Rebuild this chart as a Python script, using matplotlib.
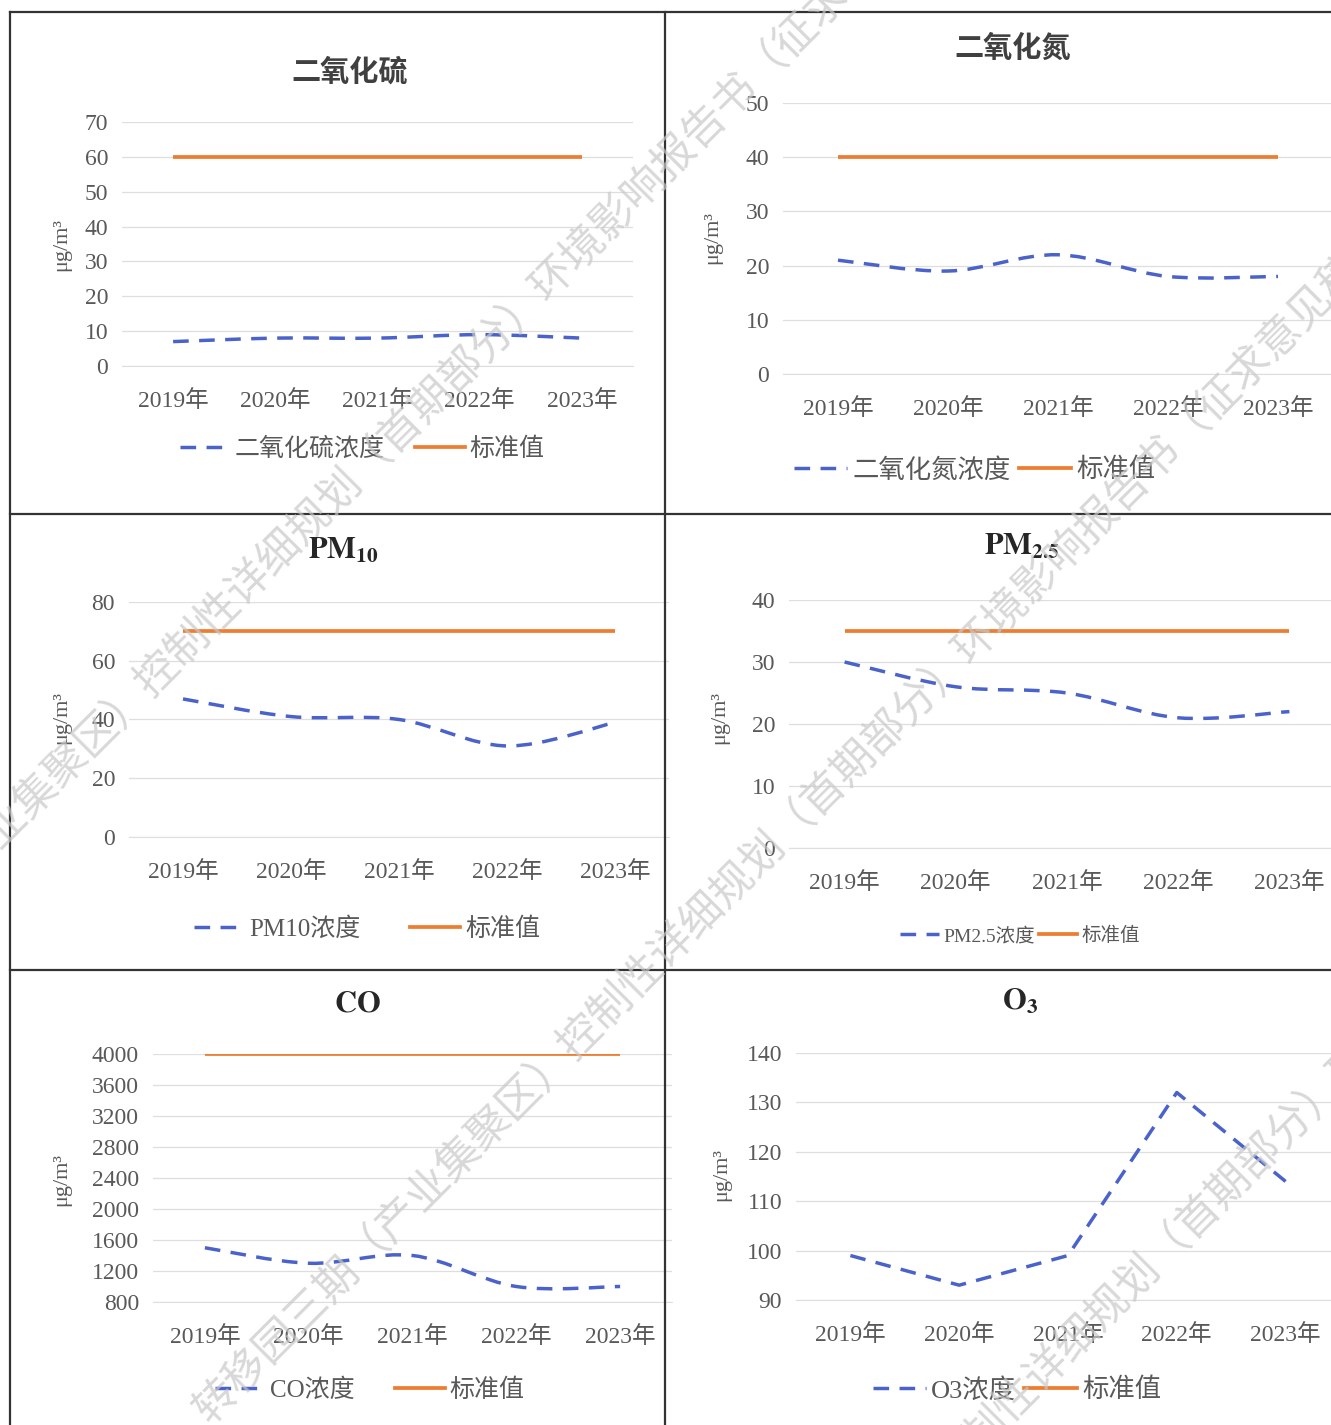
"""
Six-panel air quality trend figure (2019-2023): concentration vs standard value.
"""
import numpy as np
import matplotlib
matplotlib.use("Agg")
import matplotlib.pyplot as plt
from matplotlib.path import Path
from matplotlib.patches import PathPatch
from matplotlib.lines import Line2D
from matplotlib.font_manager import FontProperties

plt.rcParams["font.family"] = ["Liberation Serif", "Noto Sans CJK SC"]
plt.rcParams["mathtext.fontset"] = "stix"

# ── Data ──────────────────────────────────────────────────────────────────────
years = ["2019年", "2020年", "2021年", "2022年", "2023年"]

so2      = [7, 8, 8, 9, 8]
so2_std  = [60, 60, 60, 60, 60]
no2      = [21, 19, 22, 18, 18]
no2_std  = [40, 40, 40, 40, 40]
pm10     = [47, 41, 40, 31, 39]
pm10_std = [70, 70, 70, 70, 70]
pm25     = [30, 26, 25, 21, 22]
pm25_std = [35, 35, 35, 35, 35]
co       = [1500, 1300, 1400, 1000, 1000]
co_std   = [4000, 4000, 4000, 4000, 4000]
o3       = [99, 93, 99, 132, 114]
o3_std   = [160, 160, 160, 160, 160]

titles = ["二氧化硫", "二氧化氮", r"$\mathbf{PM_{10}}$", r"$\mathbf{PM_{2.5}}$",
          r"$\mathbf{CO}$", r"$\mathbf{O_3}$"]
series_labels = ["二氧化硫浓度", "二氧化氮浓度", "PM10浓度", "PM2.5浓度", "CO浓度", "O3浓度"]
std_label = "标准值"
unit = "μg/m³"

# ── Layout (pixels of the 1331x1425 canvas) ──────────────────────────────────
W, H = 1331, 1425
def fx(px): return px / W
def fy(py): return 1 - py / H

panels = [
    # box = (left, right, top, bottom) of the plot area; t/yl/lg = title, unit and legend centres
    dict(d=so2,  s=so2_std,  box=(122, 633, 122, 366),  ylim=(0, 70),     step=10,  t=(350, 72),   yl=(62, 245),   lg=(362, 449),  lfs=18, cs=1.2, sm=True),
    dict(d=no2,  s=no2_std,  box=(783, 1333, 103, 374), ylim=(0, 50),     step=10,  t=(1013, 48),  yl=(713, 238),  lg=(975, 470),  lfs=19, cs=0.3, sm=True),
    dict(d=pm10, s=pm10_std, box=(129, 669, 602, 837),  ylim=(0, 80),     step=20,  t=(343, 551),  yl=(62, 718),   lg=(367, 929),  lfs=18, cs=2.0, sm=True),
    dict(d=pm25, s=pm25_std, box=(789, 1345, 600, 848), ylim=(0, 40),     step=10,  t=(1022, 547), yl=(720, 718),  lg=(1020, 936), lfs=14, cs=0.2, sm=True),
    dict(d=co,   s=co_std,   box=(153, 672, 1054, 1302), ylim=(800, 4000), step=400, t=(357, 1004), yl=(62, 1180),  lg=(370, 1390), lfs=18, cs=1.6, sm=True),
    dict(d=o3,   s=o3_std,   box=(796, 1340, 1053, 1300), ylim=(90, 140),  step=10,  t=(1020, 1002), yl=(722, 1175), lg=(1017, 1390), lfs=19, cs=0.3, sm=False),
]

BLUE = "#4a62c9"
ORANGE = "#ED7D31"
GRID = "#dedede"
TXT = "#595959"
DASH = (0, (4.5, 3.0))


def smooth_path(xs, ys):
    # cubic bezier through the points (Excel style smoothed line)
    pts = list(zip(xs, ys))
    n = len(pts)
    verts, codes = [pts[0]], [Path.MOVETO]
    for i in range(n - 1):
        p0, p1 = pts[max(i - 1, 0)], pts[i]
        p2, p3 = pts[i + 1], pts[min(i + 2, n - 1)]
        c1 = (p1[0] + (p2[0] - p0[0]) / 6, p1[1] + (p2[1] - p0[1]) / 6)
        c2 = (p2[0] - (p3[0] - p1[0]) / 6, p2[1] - (p3[1] - p1[1]) / 6)
        verts += [c1, c2, p2]
        codes += [Path.CURVE4] * 3
    return Path(verts, codes)


fig = plt.figure(figsize=(W / 100, H / 100), dpi=100)

x = np.arange(len(years))
for i, p in enumerate(panels):
    l, r, t, b = p["box"]
    ax = fig.add_axes([fx(l), fy(b), (r - l) / W, (b - t) / H])
    ax.set_xlim(-0.5, len(years) - 0.5)
    ax.set_ylim(*p["ylim"])
    ax.set_yticks(np.arange(p["ylim"][0], p["ylim"][1] + 1, p["step"]))
    ax.set_xticks(x)
    ax.set_xticklabels(years)
    ax.tick_params(axis="both", length=0, labelsize=17, labelcolor=TXT)
    ax.tick_params(axis="x", pad=17)
    ax.tick_params(axis="y", pad=10)
    ax.grid(True, axis="y", color=GRID, lw=0.9)
    ax.set_axisbelow(True)
    for side in ["top", "right", "left"]:
        ax.spines[side].set_visible(False)
    ax.spines["bottom"].set_color(GRID)

    # standard value line
    ax.plot(x, p["s"], color=ORANGE, lw=2.7, solid_capstyle="butt", zorder=3)
    # concentration line
    if p["sm"]:
        ax.add_patch(PathPatch(smooth_path(x, p["d"]), fill=False, edgecolor=BLUE,
                               lw=2.5, linestyle=DASH, capstyle="butt", zorder=4))
    else:
        ax.plot(x, p["d"], color=BLUE, lw=2.5, linestyle=DASH, zorder=4)

    # title and unit
    if i < 2:
        fig.text(fx(p["t"][0]), fy(p["t"][1]), titles[i], ha="center", va="center",
                 fontsize=21, fontweight="bold", color="#404040", family=["Noto Sans CJK SC"])
    else:
        fig.text(fx(p["t"][0]), fy(p["t"][1]), titles[i], ha="center", va="center",
                 fontsize=22, color="#262626")
    fig.text(fx(p["yl"][0]), fy(p["yl"][1]), unit, rotation=90, ha="center", va="center",
             fontsize=16, color=TXT)

    handles = [Line2D([], [], color=BLUE, lw=2.5, linestyle=DASH),
               Line2D([], [], color=ORANGE, lw=2.7)]
    ax.legend(handles, [series_labels[i], std_label], loc="center",
              bbox_to_anchor=(fx(p["lg"][0]), fy(p["lg"][1])), bbox_transform=fig.transFigure,
              ncol=2, frameon=False, labelcolor=TXT,
              prop=FontProperties(family=["Liberation Serif", "Noto Sans CJK SC"], size=p["lfs"]),
              handlelength=2.0, handletextpad=0.2, columnspacing=p["cs"])

# ── Panel borders ─────────────────────────────────────────────────────────────
border = dict(transform=fig.transFigure, color="#333333", lw=1.6)
fig.add_artist(Line2D([fx(10), 1], [fy(12), fy(12)], **border))
fig.add_artist(Line2D([fx(10), 1], [fy(514), fy(514)], **border))
fig.add_artist(Line2D([fx(10), 1], [fy(970), fy(970)], **border))
fig.add_artist(Line2D([fx(10), fx(10)], [fy(12), 0], **border))
fig.add_artist(Line2D([fx(665), fx(665)], [fy(12), 0], **border))

# ── Watermark ─────────────────────────────────────────────────────────────────
wm = "转移园三期（产业集聚区）控制性详细规划（首期部分）环境影响报告书（征求意见稿）"
for cx, cy in [(372, 462), (795, 825), (1170, 1248)]:
    fig.text(fx(cx), fy(cy), wm, rotation=45, rotation_mode="anchor", ha="center",
             va="center", fontsize=31, color="#c8c8c8", alpha=0.7,
             family=["Noto Sans CJK SC"], zorder=10)

fig.savefig("out.png", dpi=100)
